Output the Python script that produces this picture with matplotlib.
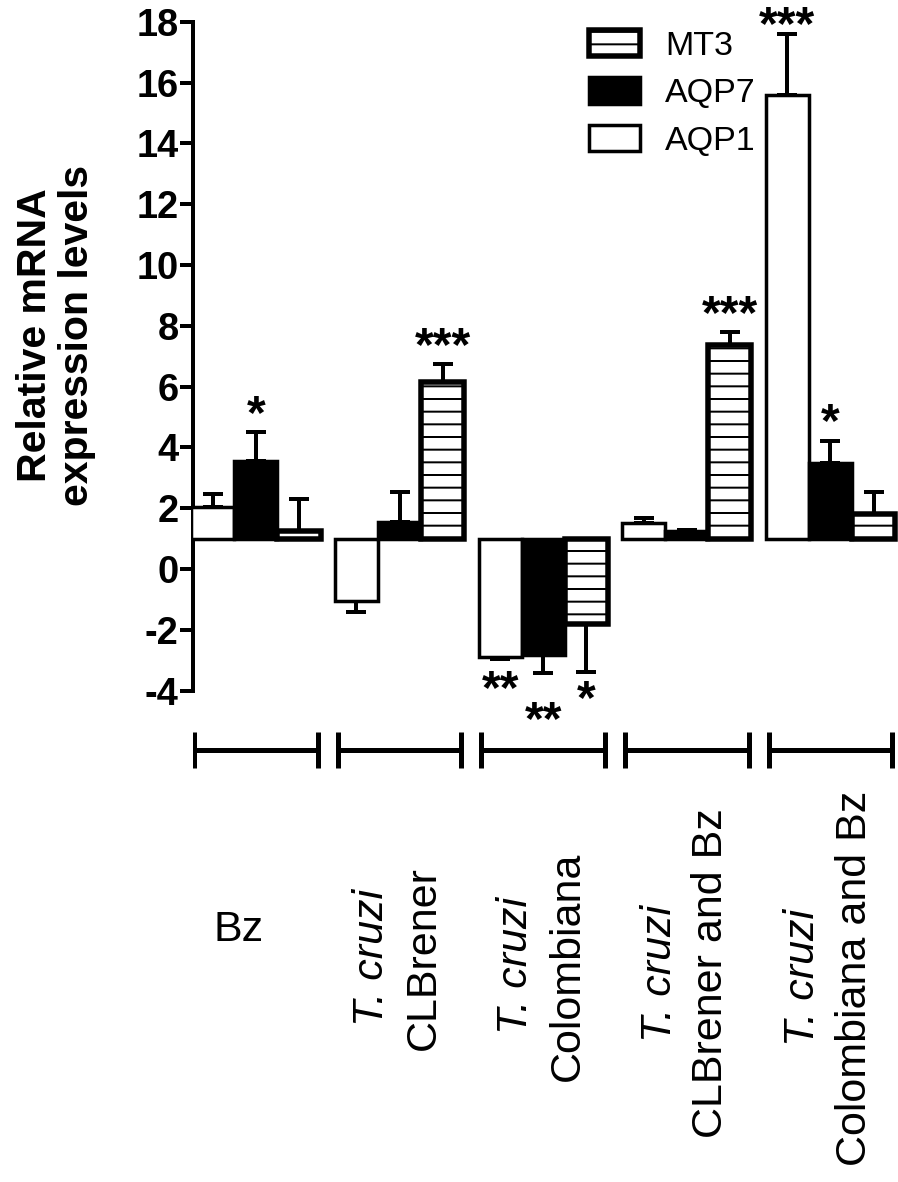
import matplotlib
matplotlib.use("Agg")
import matplotlib.pyplot as plt
from matplotlib.transforms import blended_transform_factory
import numpy as np

# ---------------- data ----------------
groups = ["Bz", "CLBrener", "Colombiana", "CLBrener and Bz", "Colombiana and Bz"]
series = ["AQP1", "AQP7", "MT3"]
aqp1 = [2.03, -1.06, -2.88, 1.52, 15.6]
aqp1_err = [0.44, 0.34, 0.09, 0.17, 2.0]
aqp7 = [3.54, 1.55, -2.83, 1.25, 3.5]
aqp7_err = [0.96, 1.0, 0.6, 0.05, 0.7]
mt3 = [1.24, 6.16, -1.79, 7.38, 1.82]
mt3_err = [1.07, 0.59, 1.59, 0.42, 0.71]
baseline = 1.0
yticks = [-4, -2, 0, 2, 4, 6, 8, 10, 12, 14, 16, 18]
# significance marks: (group index, series index, text)
stars = [(0, 1, "*"), (1, 2, "***"), (2, 0, "**"), (2, 1, "**"), (2, 2, "*"),
         (3, 2, "***"), (4, 0, "***"), (4, 1, "*")]

# ---------------- layout helpers ----------------
W, H, DPI = 898, 1182, 76
PT = 72.0 / DPI  # px -> pt


def fx(px):
    return px / W


def fy(px):
    return 1 - px / H


plt.rcParams["font.family"] = ["Liberation Sans", "DejaVu Sans"]
plt.rcParams["hatch.linewidth"] = 2.0 * PT
plt.rcParams["hatch.color"] = "black"

fig = plt.figure(figsize=(W / DPI, H / DPI), dpi=DPI)
ax_left, ax_right = 192.75, 898.0
ax_top, ax_bot = 21.9, 690.7
ax = fig.add_axes([fx(ax_left), fy(ax_bot), fx(ax_right - ax_left), (ax_bot - ax_top) / H])

x = np.arange(len(groups))
bw = 0.3
vals = [aqp1, aqp7, mt3]
errs = [aqp1_err, aqp7_err, mt3_err]
styles = [
    dict(facecolor="white", edgecolor="black", linewidth=3.5 * PT),
    dict(facecolor="black", edgecolor="black", linewidth=3.5 * PT),
    dict(facecolor="white", edgecolor="black", linewidth=5.5 * PT, hatch="-"),
]
handles = []
for i, (v, e, st) in enumerate(zip(vals, errs, styles)):
    v = np.array(v)
    e = np.array(e)
    xi = x + (i - 1) * bw
    b = ax.bar(xi, v - baseline, bottom=baseline, width=bw, label=series[i], zorder=3, **st)
    handles.append(b)
    lower = np.where(v < baseline, e, 0)
    upper = np.where(v >= baseline, e, 0)
    ax.errorbar(xi, v, yerr=[lower, upper], fmt="none", ecolor="black",
                elinewidth=4 * PT, capsize=10 * PT, capthick=4 * PT, zorder=2)

ax.set_xlim(-0.44, 4.47)
ax.set_ylim(-4, 18)
ax.set_yticks(yticks)
ax.set_yticklabels([str(t) for t in yticks], fontsize=38 * PT, fontweight="bold")
ax.tick_params(axis="y", length=13 * PT, width=4 * PT, pad=1 * PT)
ax.set_xticks([])
for s in ["top", "right", "bottom"]:
    ax.spines[s].set_visible(False)
ax.spines["left"].set_linewidth(4 * PT)

# significance stars
star_off_px = {(0, 1): 4, (1, 2): 4, (3, 2): 4, (4, 0): -5, (4, 1): 5,
               (2, 0): -44, (2, 1): -61, (2, 2): -41}
for g, s, txt in stars:
    v = vals[s][g]
    e = errs[s][g]
    end = v + e if v >= baseline else v - e
    ax.annotate(txt, xy=(x[g] + (s - 1) * bw, end), xytext=(0, star_off_px[(g, s)] * PT),
                textcoords="offset points", ha="center", va="baseline",
                fontsize=48 * PT, fontweight="bold", annotation_clip=False)

# y label
fig.text(fx(56), fy(335), "Relative mRNA\nexpression levels", rotation=90,
         ha="center", va="center", fontsize=41 * PT, fontweight="bold", linespacing=1.15)

# legend (reversed order)
fig.legend(handles[::-1], series[::-1], loc="upper left",
           bbox_to_anchor=(fx(589), fy(30)), frameon=False, fontsize=34 * PT,
           borderpad=0, borderaxespad=0, handlelength=1.5, handleheight=0.82,
           handletextpad=0.74, labelspacing=0.45)

# group brackets under the axis
ax2 = fig.add_axes([fx(ax_left), fy(790), fx(ax_right - ax_left), 70 / H], sharex=ax)
ax2.set_ylim(0, 1)
ax2.axis("off")
ax2.errorbar(x, np.full(len(x), (790 - 750) / 70.0), xerr=0.43, fmt="none", ecolor="black",
             elinewidth=5 * PT, capsize=18 * PT, capthick=5 * PT)

# group labels
trans = blended_transform_factory(ax.transData, fig.transFigure)
lab_size = 43 * PT
ax.text(x[0] - 0.12, fy(941), "Bz", transform=trans, ha="center", va="baseline",
        fontsize=lab_size)
label_y = [958, 966, 973, 978]
for g in range(1, 5):
    ax.text(x[g] - 0.19, fy(label_y[g - 1]), "T. cruzi", transform=trans, rotation=90,
            ha="center", va="center", fontsize=lab_size, fontstyle="italic")
    ax.text(x[g] + 0.17, fy(label_y[g - 1]), groups[g], transform=trans, rotation=90,
            ha="center", va="center", fontsize=lab_size)

fig.savefig("out.png", dpi=DPI)
